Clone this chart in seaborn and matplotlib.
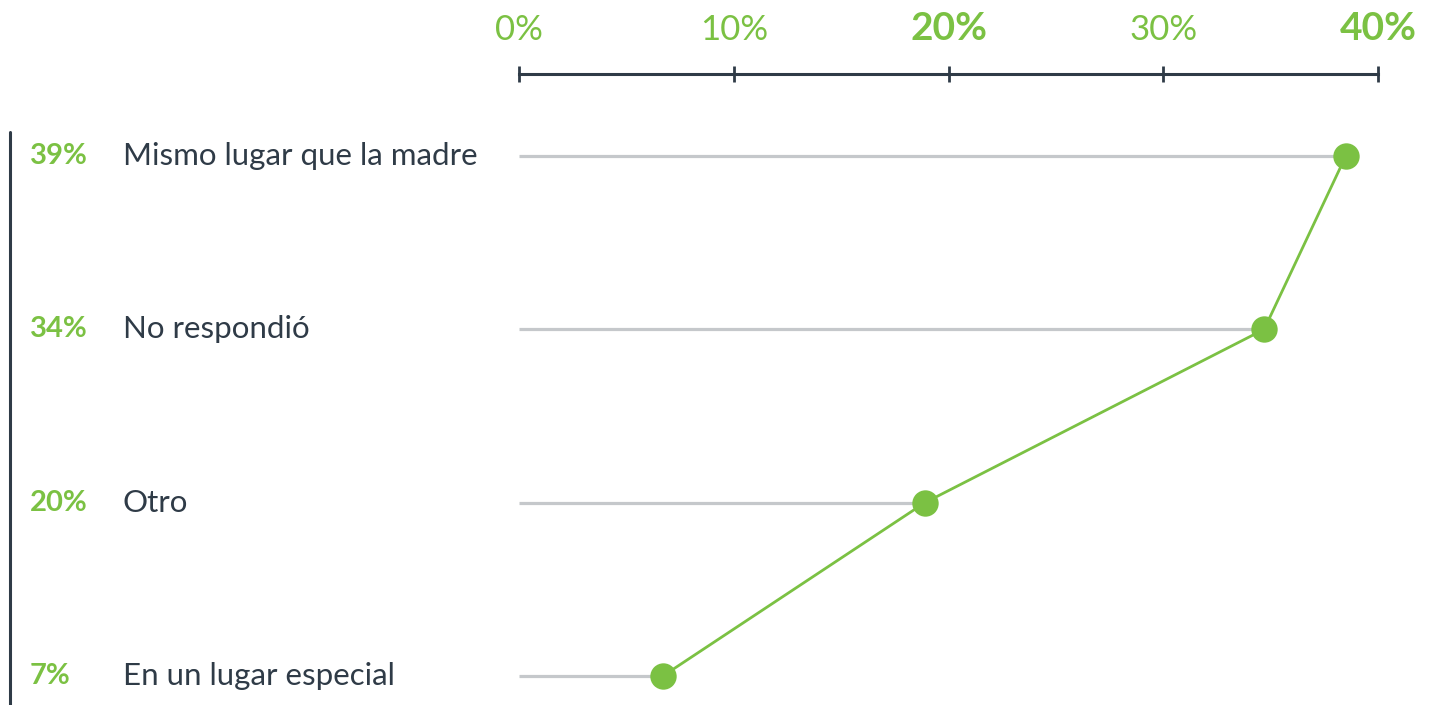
import numpy as np
import pandas as pd
import seaborn as sns
from matplotlib import pyplot as plt
from matplotlib.lines import Line2D
import matplotlib.transforms as mtransforms

''' Données '''
categories = ["Mismo lugar que la madre", "No respondió", "Otro", "En un lugar especial"]
values = [38.5, 34.7, 18.9, 6.7]
value_labels = ["39%", "34%", "20%", "7%"]
tick_values = [0, 10, 20, 30, 40]
tick_labels = ["0%", "10%", "20%", "30%", "40%"]
bold_ticks = ["20%", "40%"]

GREEN = "#7bc143"
GREY = "#c5c8cb"
DARK = "#2f3b47"

sns.set_theme(style="white")
plt.rcParams['font.family'] = ['Lato', 'DejaVu Sans']

df = pd.DataFrame({"categorie": categories, "valeur": values, "rang": np.arange(len(categories))})

fig = plt.figure(figsize=(14.29, 7.05), dpi=100)
W, H = 1429, 705
ax = fig.add_axes([519 / W, 0, (1378 - 519) / W, (705 - 74) / H])

''' Lignes grises '''
ax.hlines(y=df["rang"], xmin=0, xmax=df["valeur"], color=GREY, linewidth=2.3, zorder=1)

''' Courbe verte '''
sns.lineplot(data=df, x="valeur", y="rang", sort=False, estimator=None, color=GREEN,
             linewidth=2.0, marker="o", markersize=19, markeredgewidth=0, ax=ax, zorder=3)

ax.set_xlim(0, 40)
row_px = (676 - 156) / 3
ax.set_ylim(3 + (705 - 676) / row_px, -(156 - 74) / row_px)

''' Axe du haut '''
for side in ["right", "left", "bottom"]:
    ax.spines[side].set_visible(False)
ax.spines["top"].set_color(DARK)
ax.spines["top"].set_linewidth(2.2)
ax.xaxis.tick_top()
ax.set_xticks(tick_values)
ax.set_xticklabels(tick_labels)
ax.tick_params(axis="x", direction="inout", length=12, width=2, color=DARK, pad=14,
               labelsize=25, labelcolor=GREEN)
for lab in ax.get_xticklabels():
    if lab.get_text() in bold_ticks:
        lab.set_fontweight("bold")
        lab.set_fontsize(28)
    else:
        lab.set_fontweight("normal")

ax.set_yticks([])
ax.set_xlabel("")
ax.set_ylabel("")

''' Étiquettes '''
trans = mtransforms.blended_transform_factory(fig.transFigure, ax.transData)
for i, row in df.iterrows():
    ax.text(30 / W, row["rang"], value_labels[i], transform=trans, ha="left", va="center",
            fontsize=21, fontweight="bold", color=GREEN, clip_on=False)
    ax.text(123 / W, row["rang"], row["categorie"], transform=trans, ha="left", va="center",
            fontsize=22.5, fontweight="normal", color=DARK, clip_on=False)

fig.add_artist(Line2D([10 / W, 10 / W], [0, 1 - 132 / H], color=DARK, linewidth=2.2))

fig.savefig("out.png", dpi=100)
